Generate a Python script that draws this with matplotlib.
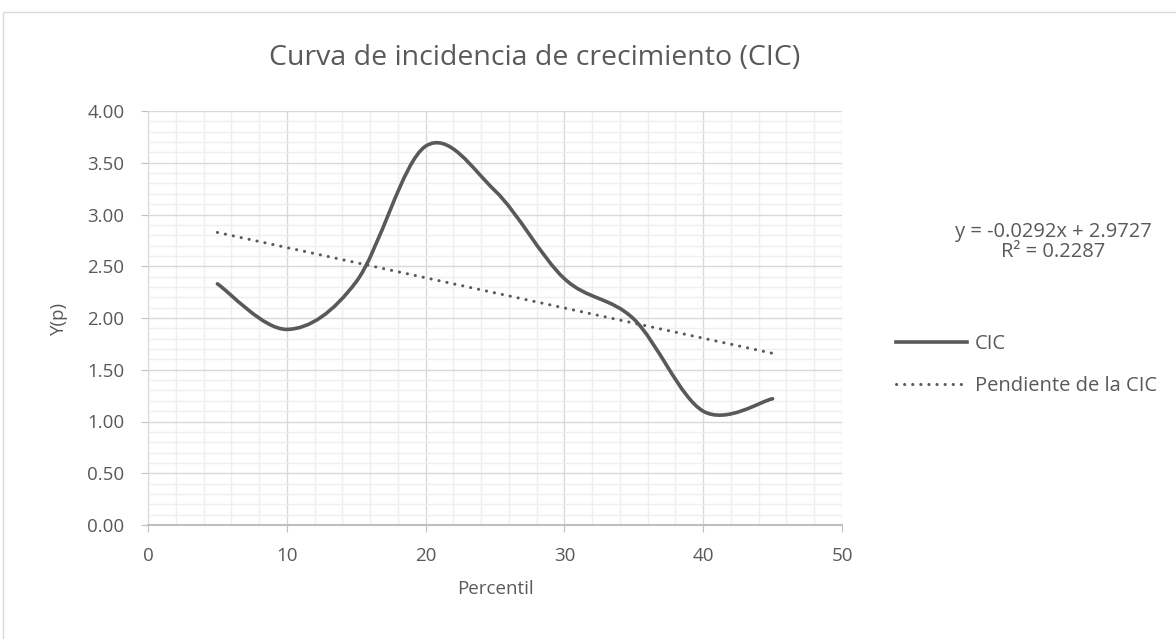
import numpy as np
import matplotlib
matplotlib.use("Agg")
import matplotlib.pyplot as plt
from matplotlib.path import Path
from matplotlib.patches import PathPatch, Rectangle
from matplotlib.lines import Line2D

# data
percentil = [5, 10, 15, 20, 25, 30, 35, 40, 45]
cic = [2.33, 1.89, 2.35, 3.66, 3.23, 2.38, 1.99, 1.10, 1.22]
trend_slope = -0.0292
trend_intercept = 2.9727
trend_label = "y = -0.0292x + 2.9727\nR² = 0.2287"
title = "Curva de incidencia de crecimiento (CIC)"

GRAY = "#595959"
plt.rcParams["font.family"] = ["Open Sans", "DejaVu Sans"]


def smooth_path(xs, ys):
    """Excel-style smoothed line: Catmull-Rom as cubic Bezier segments."""
    pts = np.column_stack([xs, ys]).astype(float)
    ext = np.vstack([pts[0], pts, pts[-1]])
    verts, codes = [pts[0]], [Path.MOVETO]
    for i in range(1, len(ext) - 2):
        p0, p1, p2, p3 = ext[i - 1], ext[i], ext[i + 1], ext[i + 2]
        verts += [p1 + (p2 - p0) / 6, p2 - (p3 - p1) / 6, p2]
        codes += [Path.CURVE4] * 3
    return Path(verts, codes)


fig = plt.figure(figsize=(11.76, 6.39), dpi=100)
fig.patches.append(Rectangle((3 / 1176, -0.1), 1.2, (639 - 12) / 639 + 0.1,
                             transform=fig.transFigure, fill=False,
                             edgecolor="#d9d9d9", lw=1.0))
ax = fig.add_axes([148 / 1176, (639 - 525) / 639, 694 / 1176, 414 / 639])

ax.set_xlim(0, 50)
ax.set_ylim(0, 4)
ax.set_xticks(np.arange(0, 51, 10))
ax.set_xticks(np.arange(0, 51, 2), minor=True)
ax.set_yticks(np.arange(0, 4.01, 0.5))
ax.set_yticks(np.arange(0, 4.01, 0.1), minor=True)
ax.set_yticklabels([f"{v:.2f}" for v in np.arange(0, 4.01, 0.5)])
ax.grid(which="major", color="#d9d9d9", lw=1.0)
ax.grid(which="minor", color="#efefef", lw=1.0)
ax.set_axisbelow(True)
for s in ["top", "right"]:
    ax.spines[s].set_visible(False)
ax.spines["left"].set_color("#d9d9d9")
ax.spines["bottom"].set_color("#bfbfbf")
ax.spines["bottom"].set_linewidth(1.5)
ax.tick_params(which="major", direction="out", length=5, color="#bfbfbf",
               labelsize=13.5, labelcolor=GRAY)
ax.tick_params(axis="y", pad=12)
ax.tick_params(axis="x", pad=11)
ax.tick_params(which="minor", length=0)

ax.add_patch(PathPatch(smooth_path(percentil, cic), fill=False,
                       edgecolor=GRAY, lw=2.6, capstyle="round"))
xt = np.array([percentil[0], percentil[-1]])
ax.plot(xt, trend_slope * xt + trend_intercept, color=GRAY, lw=2.2,
        linestyle=(0, (0.05, 2.6)), dash_capstyle="round")

ax.set_xlabel("Percentil", fontsize=13.5, color=GRAY, labelpad=11)
ax.set_ylabel("Y(p)", fontsize=13.5, color=GRAY, labelpad=14)
fig.text(535 / 1176, 1 - 58 / 639, title, ha="center", va="center",
         fontsize=20.5, color=GRAY)
fig.text(1053 / 1176, 1 - 242 / 639, trend_label, ha="center", va="center",
         fontsize=14.5, color=GRAY, linespacing=1.05)

handles = [Line2D([], [], color=GRAY, lw=2.6),
           Line2D([], [], color=GRAY, lw=2.2, linestyle=(0, (0.05, 2.6)),
                  dash_capstyle="round")]
fig.legend(handles, ["CIC", "Pendiente de la CIC"], loc="center left",
           bbox_to_anchor=(888 / 1176, 1 - 365 / 639), frameon=False,
           fontsize=14.5, labelcolor=GRAY, handlelength=3.5, handletextpad=0.4,
           labelspacing=1.12, borderpad=0.2, borderaxespad=0.2)

fig.savefig("out.png", dpi=100)
